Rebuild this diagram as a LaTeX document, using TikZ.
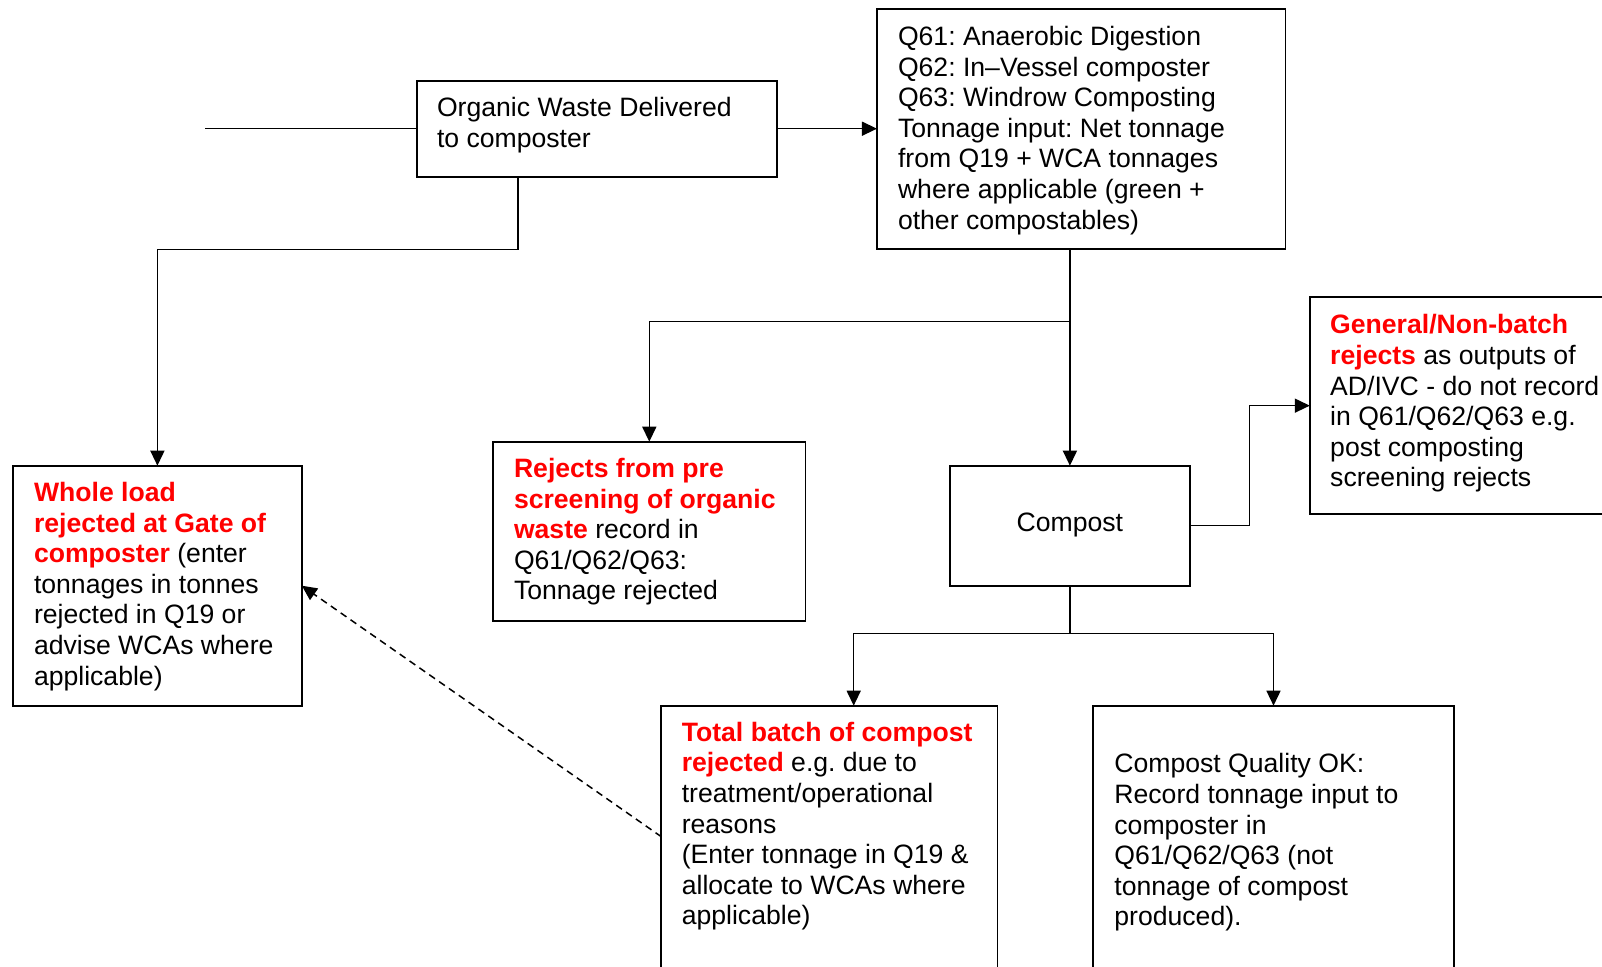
\documentclass[tikz,border=0pt]{standalone}
\usepackage{fontspec}
\setmainfont{Liberation Sans}
\usetikzlibrary{arrows.meta}
\newcommand\redb[1]{\textcolor{red}{\textbf{#1}}}
\frenchspacing
\begin{document}
\begin{tikzpicture}[x=1pt,y=-1pt,
  box/.style={draw, rectangle, line width=1.8pt, inner sep=0pt, outer sep=0pt},
  txt/.style={anchor=north west, inner sep=0pt, outer sep=0pt, align=left, font=\frenchspacing\fontsize{26.6}{30.6}\selectfont},
  conn/.style={line width=1.5pt},
  arr/.style={conn, -{Triangle[length=15pt,width=14pt]}},
  darr/.style={arr, dash pattern=on 7pt off 5pt}]
\useasboundingbox (0,0) rectangle (1602,966);
\clip (0,0) rectangle (1602,966);

% boxes
\node[box, minimum width=360pt, minimum height=96pt] (org) at (597,128.7) {};
\node[box, minimum width=408.5pt, minimum height=240pt] (q) at (1081.2,129.3) {};
\node[box, minimum width=288.8pt, minimum height=240pt] (whole) at (157.4,585.7) {};
\node[box, minimum width=312.2pt, minimum height=179pt] (rej) at (649.3,531.2) {};
\node[box, minimum width=240.3pt, minimum height=120pt] (comp) at (1069.9,525.7) {};
\node[box, minimum width=350.2pt, minimum height=216.7pt] (gen) at (1484.9,405.65) {};
\node[box, minimum width=336.1pt, minimum height=314.3pt] (tot) at (829.35,862.85) {};
\node[box, minimum width=360.4pt, minimum height=314.3pt] (ok) at (1273.5,862.85) {};

% texts
\node[txt] (orgt) at (437,95.1) {\strut Organic Waste Delivered\\to composter};
\node[txt] (qt) at (898,24.1) {\strut Q61: Anaerobic Digestion\\Q62: In–Vessel composter\\Q63: Windrow Composting\\Tonnage input: Net tonnage\\from Q19 + WCA tonnages\\where applicable (green +\\other compostables)};
\node[txt] (wholet) at (34,480.1) {\strut\redb{Whole load}\\\redb{rejected at Gate of}\\\redb{composter} (enter\\tonnages in tonnes\\rejected in Q19 or\\advise WCAs where\\applicable)};
\node[txt] (rejt) at (514,456.1) {\strut\redb{Rejects from pre}\\\redb{screening of organic}\\\redb{waste} record in\\Q61/Q62/Q63:\\Tonnage rejected};
\node[txt] (gent) at (1330.2,312.4) {\strut\redb{General/Non-batch}\\\redb{rejects} as outputs of\\AD/IVC - do not record\\in Q61/Q62/Q63 e.g.\\post composting\\screening rejects};
\node[txt, anchor=base] (compt) at (1069.9,531.8) {Compost};
\node[txt] (tott) at (681.8,719.8) {\strut\redb{Total batch of compost}\\\redb{rejected} e.g. due to\\treatment/operational\\reasons\\(Enter tonnage in Q19 \&\\allocate to WCAs where\\applicable)};
\node[txt] (okt) at (1114.4,751.4) {\strut Compost Quality OK:\\Record tonnage input to\\composter in\\Q61/Q62/Q63 (not\\tonnage of compost\\produced).};

% connectors
\coordinate (in) at (205,128.7);
\draw[conn] (in) -- (org.west);
\draw[arr] (org.east) -- (org.east -| q.west);
\coordinate (j1) at (517.8,249.3);
\draw[arr] (org.south -| j1) -- (j1) -| (whole.north);
\coordinate (j2) at (1069.9,321.7);
\draw[arr] (comp.north |- q.south) -- (comp.north);
\draw[arr] (j2) -| (rej.north);
\draw[arr] (comp.east) -- ++(59.4,0) |- (gen.west);
\coordinate (j3) at (1069.9,633.3);
\draw[conn] (comp.south) -- (j3);
\draw[arr] (j3) -| (ok.north);
\draw[arr] (j3) -| ([xshift=24.35pt]tot.north);
\draw[darr] ([yshift=-131pt]tot.north west) -- (whole.east);
\end{tikzpicture}
\end{document}
